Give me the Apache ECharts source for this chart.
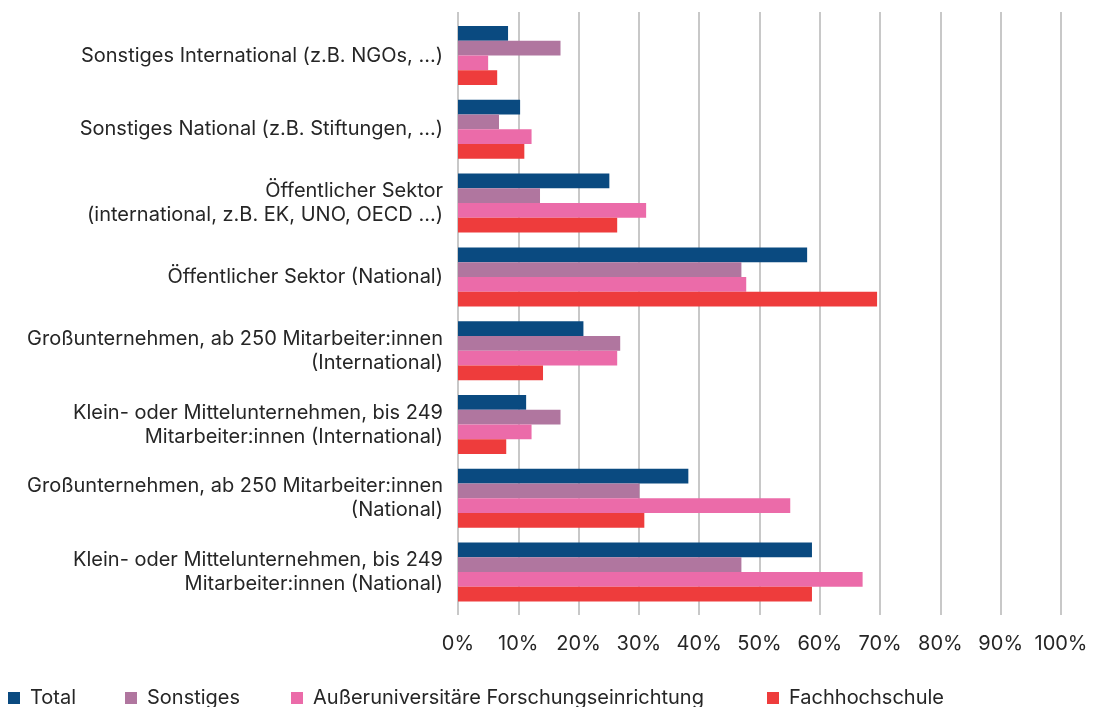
<!DOCTYPE html>
<html>
<head>
<meta charset="utf-8">
<script src="https://cdn.jsdelivr.net/npm/echarts@6/dist/echarts.min.js"></script>
<style>
html,body{margin:0;padding:0;background:#fff;}
#chart{width:1102px;height:707px;}
</style>
</head>
<body>
<div id="chart"></div>
<script>
var categories = [
  'Sonstiges International (z.B. NGOs, ...)',
  'Sonstiges National (z.B. Stiftungen, ...)',
  'Öffentlicher Sektor\n(international, z.B. EK, UNO, OECD ...)',
  'Öffentlicher Sektor (National)',
  'Großunternehmen, ab 250 Mitarbeiter:innen\n(International)',
  'Klein- oder Mittelunternehmen, bis 249\nMitarbeiter:innen (International)',
  'Großunternehmen, ab 250 Mitarbeiter:innen\n(National)',
  'Klein- oder Mittelunternehmen, bis 249\nMitarbeiter:innen (National)'
];
var seriesNames = ['Total', 'Sonstiges', 'Außeruniversitäre Forschungseinrichtung', 'Fachhochschule'];
var total      = [8.3, 10.3, 25.1, 57.9, 20.8, 11.3, 38.2, 58.7];
var sonstiges  = [17.0, 6.8, 13.6, 47.0, 26.9, 17.0, 30.1, 47.0];
var aufe       = [5.0, 12.2, 31.2, 47.8, 26.4, 12.2, 55.1, 67.1];
var fh         = [6.5, 11.0, 26.4, 69.5, 14.1, 8.0, 30.9, 58.7];
var tickValues = [0, 10, 20, 30, 40, 50, 60, 70, 80, 90, 100];

var colors = ['#0a4a80', '#b0769f', '#eb6ba9', '#ee3c3c'];
var values = [total, sonstiges, aufe, fh];
var FONT = 'Inter';
var textColor = '#262626';

var series = seriesNames.map(function (n, i) {
  return {
    name: n, type: 'bar', xAxisIndex: 1, yAxisIndex: 1,
    data: values[i], barGap: 0, barCategoryGap: '20%',
    itemStyle: { color: colors[i] }
  };
});
series.push({ type: 'bar', xAxisIndex: 0, yAxisIndex: 0, data: [], silent: true });

var legendLefts = [8, 125, 291, 767];
var legends = seriesNames.map(function (n, i) {
  return {
    data: [n], left: legendLefts[i], top: 688, padding: 0, itemWidth: 12, itemHeight: 12, itemGap: 8,
    icon: 'rect', textStyle: { fontFamily: FONT, fontSize: 20, color: textColor, padding: [0,0,0,5] }
  };
});

var chart = echarts.init(document.getElementById('chart'), null, { renderer: 'canvas' });
chart.setOption({
  animation: false,
  backgroundColor: '#fff',
  textStyle: { fontFamily: FONT },
  legend: legends,
  grid: [
    { left: 458, right: 41, top: 12, bottom: 92, containLabel: false },
    { left: 458, right: 41, top: 18.6, bottom: 98, containLabel: false }
  ],
  xAxis: [
    {
      gridIndex: 0, type: 'value', min: 0, max: 100, interval: 10,
      axisLine: { show: false }, axisTick: { show: false },
      splitLine: { show: true, lineStyle: { color: '#c8c8c8', width: 2 } },
      axisLabel: { margin: 19, fontFamily: FONT, fontSize: 20, color: textColor,
        formatter: function (v) { return tickValues.indexOf(v) >= 0 ? v + '%' : ''; } }
    },
    {
      gridIndex: 1, type: 'value', min: 0, max: 100, show: false,
      splitLine: { show: false }
    }
  ],
  yAxis: [
    { gridIndex: 0, type: 'category', data: categories, show: false },
    {
      gridIndex: 1, type: 'category', data: categories, inverse: true,
      axisLine: { show: false }, axisTick: { show: false },
      axisLabel: { margin: 15, fontFamily: FONT, fontSize: 20, color: textColor, lineHeight: 24, align: 'right' }
    }
  ],
  series: series
});
</script>
</body>
</html>
